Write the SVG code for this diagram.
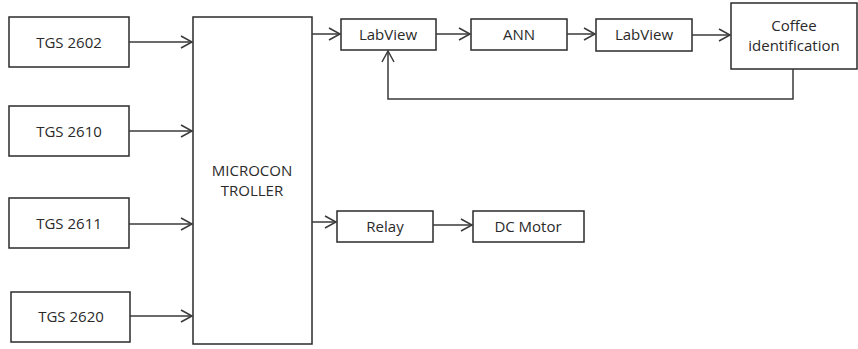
<svg xmlns="http://www.w3.org/2000/svg" width="858" height="349" viewBox="0 0 858 349">
<style>
.box{fill:#fff;stroke:#2b2b2b;stroke-width:1.5}
.t{font-family:"Open Sans","Liberation Sans",sans-serif;font-size:15px;fill:#2a2a2a;text-anchor:middle}
.c{fill:none;stroke:#3a3a3a;stroke-width:1.5}
</style>
<defs>
<marker id="a" markerWidth="14" markerHeight="14" refX="12" refY="7" orient="auto" markerUnits="userSpaceOnUse">
<path d="M1,1 L12,7 L1,13" fill="none" stroke="#3a3a3a" stroke-width="1.5"/>
</marker>
</defs>
<rect width="858" height="349" fill="#fff"/>
<g id="tgs2602"><rect class="box" x="9" y="17" width="120" height="50"/><text class="t" x="69" y="48">TGS 2602</text></g>
<g id="tgs2610"><rect class="box" x="9" y="106" width="120" height="50"/><text class="t" x="69" y="137">TGS 2610</text></g>
<g id="tgs2611"><rect class="box" x="9" y="198" width="120" height="50"/><text class="t" x="69" y="229">TGS 2611</text></g>
<g id="tgs2620"><rect class="box" x="11" y="292" width="119" height="50"/><text class="t" x="71" y="322">TGS 2620</text></g>
<g id="micro"><rect class="box" x="193" y="17" width="119" height="327"/><text class="t" x="252" y="176">MICROCON</text><text class="t" x="252" y="196">TROLLER</text></g>
<g id="labview1"><rect class="box" x="341" y="19" width="95" height="31"/><text class="t" x="388" y="40">LabView</text></g>
<g id="ann"><rect class="box" x="471" y="19" width="96" height="31"/><text class="t" x="519" y="40">ANN</text></g>
<g id="labview2"><rect class="box" x="596" y="19" width="96" height="32"/><text class="t" x="644" y="40">LabView</text></g>
<g id="coffee"><rect class="box" x="731" y="3" width="126" height="66"/><text class="t" x="794" y="31">Coffee</text><text class="t" x="794" y="51">identification</text></g>
<g id="relay"><rect class="box" x="337" y="211" width="96" height="31"/><text class="t" x="385" y="232">Relay</text></g>
<g id="dcmotor"><rect class="box" x="473" y="211" width="111" height="31"/><text class="t" x="528" y="232">DC Motor</text></g>
<g id="connectors">
<line class="c" x1="129" y1="42" x2="192" y2="42" marker-end="url(#a)"/>
<line class="c" x1="129" y1="131" x2="192" y2="131" marker-end="url(#a)"/>
<line class="c" x1="129" y1="224" x2="192" y2="224" marker-end="url(#a)"/>
<line class="c" x1="130" y1="316" x2="192" y2="316" marker-end="url(#a)"/>
<line class="c" x1="312" y1="34" x2="340" y2="34" marker-end="url(#a)"/>
<line class="c" x1="436" y1="34" x2="470" y2="34" marker-end="url(#a)"/>
<line class="c" x1="567" y1="34" x2="595" y2="34" marker-end="url(#a)"/>
<line class="c" x1="692" y1="35" x2="730" y2="35" marker-end="url(#a)"/>
<polyline class="c" points="793,69 793,99 388,99 388,51" marker-end="url(#a)"/>
<line class="c" x1="312" y1="222" x2="336" y2="222" marker-end="url(#a)"/>
<line class="c" x1="433" y1="225" x2="472" y2="225" marker-end="url(#a)"/>
</g>
</svg>
